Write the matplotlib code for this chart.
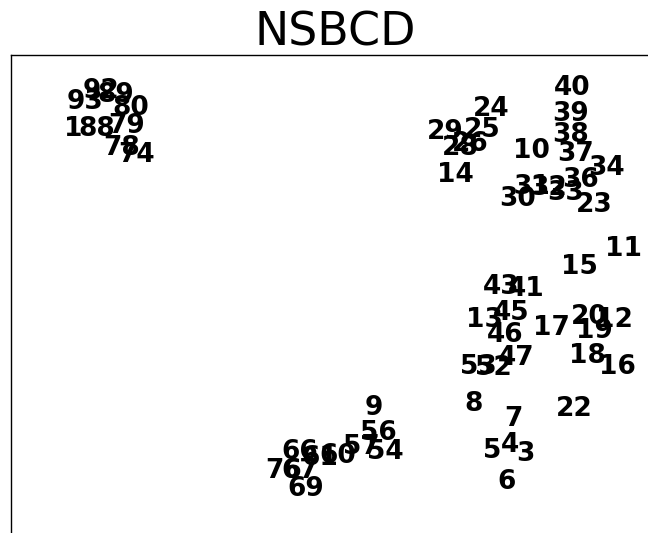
import matplotlib
matplotlib.use("Agg")
import matplotlib.pyplot as plt

labels = ["93", "92", "89", "80", "1", "88", "79", "78", "74",
          "24", "29", "25", "26", "28", "14", "10",
          "40", "39", "38", "37", "34", "36", "31", "32", "33", "30", "23",
          "11", "15", "43", "41", "13", "45", "46", "17", "20", "12", "19",
          "18", "16", "47", "53", "52",
          "8", "7", "22", "5", "4", "3", "6",
          "9", "56", "57", "54", "66", "61", "60", "76", "67", "69"]
xs = [85, 101, 116, 131, 73, 97, 127, 122, 137,
      491, 445, 482, 470, 460, 455, 531,
      572, 571, 571, 576, 606, 581, 532, 549, 566, 518, 594,
      623, 579, 501, 526, 484, 511, 505, 551, 589, 614, 594,
      587, 617, 516, 478, 493,
      474, 513, 574, 492, 510, 525, 507,
      374, 378, 361, 385, 300, 320, 338, 284, 300, 306]
ys = [102, 91, 95, 108, 129, 129, 126, 148, 155,
      109, 132, 130, 144, 148, 175, 151,
      88, 114, 135, 154, 168, 180, 187, 188, 193, 199, 205,
      249, 267, 287, 289, 320, 313, 335, 328, 317, 320, 331,
      356, 367, 358, 367, 368,
      404, 419, 409, 451, 445, 454, 482,
      408, 433, 447, 452, 452, 458, 456, 471, 471, 489]

fig = plt.figure(figsize=(6.48, 5.33), dpi=100)
W, H = 648, 533
left, right, top, bottom = 11, 659, 55, 580
ax = fig.add_axes([left / W, 1 - bottom / H, (right - left) / W, (bottom - top) / H])
ax.set_xlim(left, right)
ax.set_ylim(bottom, top)
for lab, x, y in zip(labels, xs, ys):
    ax.text(x, y, lab, ha="center", va="center", fontsize=19,
            fontweight="bold", color="black")
ax.set_xticks([])
ax.set_yticks([])
for s in ax.spines.values():
    s.set_color("black")
    s.set_linewidth(1.0)
ax.set_title("NSBCD", fontsize=33, pad=6)
fig.savefig("out.png", dpi=100)
